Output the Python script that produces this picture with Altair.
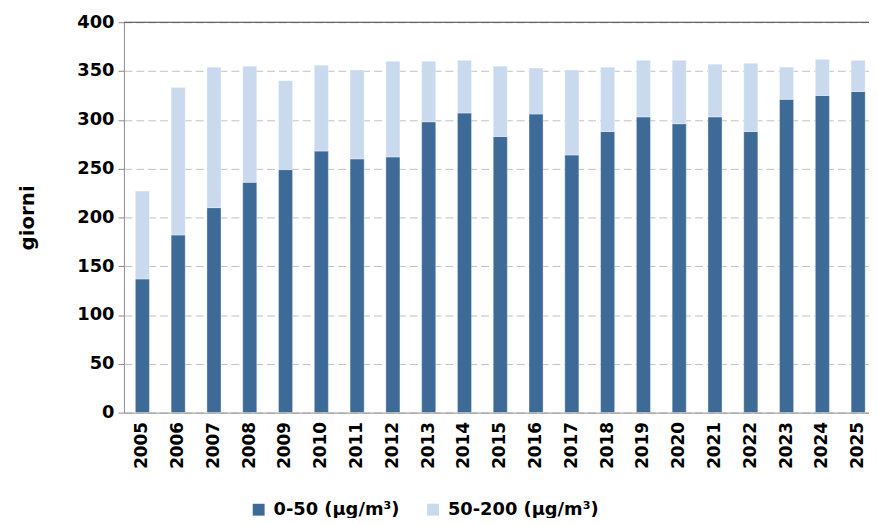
import altair as alt
import pandas as pd

anni = ["2005", "2006", "2007", "2008", "2009", "2010", "2011", "2012", "2013", "2014",
        "2015", "2016", "2017", "2018", "2019", "2020", "2021", "2022", "2023", "2024", "2025"]
giorni_0_50 = [137, 182, 210, 236, 249, 268, 260, 262, 298, 307,
               283, 306, 264, 288, 303, 296, 303, 288, 321, 325, 329]
giorni_50_200 = [90, 151, 144, 119, 91, 88, 91, 98, 62, 54,
                 72, 47, 87, 66, 58, 65, 54, 70, 33, 37, 32]
serie = ["0-50 (µg/m³)", "50-200 (µg/m³)"]
colori = ["#3d6a96", "#c9d9ee"]

rows = []
for a, v1, v2 in zip(anni, giorni_0_50, giorni_50_200):
    rows.append({"anno": a, "serie": serie[0], "giorni": v1, "ordine": 0})
    rows.append({"anno": a, "serie": serie[1], "giorni": v2, "ordine": 1})
df = pd.DataFrame(rows)

FONT = "DejaVu Sans"

bars = alt.Chart(df).mark_bar(stroke="#ffffff", strokeWidth=0.6, strokeOpacity=0.6).encode(
    x=alt.X("anno:N", sort=anni,
            scale=alt.Scale(paddingInner=0.607, paddingOuter=0.213, align=0.75),
            axis=alt.Axis(title=None, labelAngle=-90, labelFont=FONT, labelFontSize=17,
                          labelFontWeight="bold", labelColor="#000000", ticks=False,
                          tickSize=0, labelPadding=9, domainColor="#8c8c8c")),
    y=alt.Y("giorni:Q", stack="zero",
            scale=alt.Scale(domain=[0, 400], nice=False),
            axis=alt.Axis(values=list(range(0, 401, 50)), title="giorni",
                          labelFont=FONT, labelFontSize=18, labelFontWeight="bold",
                          labelColor="#000000", labelPadding=4, tickSize=6,
                          tickColor="#8c8c8c", domainColor="#8c8c8c",
                          gridColor="#c0c0c0", gridDash=[8, 4], gridWidth=1,
                          titleFont=FONT, titleFontSize=20, titleFontWeight="bold",
                          titleColor="#000000", titlePadding=40)),
    color=alt.Color("serie:N", scale=alt.Scale(domain=serie, range=colori),
                    legend=alt.Legend(title=None, orient="none", legendX=127, legendY=483,
                                      direction="horizontal", symbolType="square",
                                      symbolSize=144, symbolStrokeWidth=0,
                                      labelFont=FONT, labelFontSize=18,
                                      labelFontWeight="bold", labelColor="#000000",
                                      labelOffset=6, columnPadding=24)),
    order=alt.Order("ordine:Q"),
)

top_line = alt.Chart(pd.DataFrame({"k": [0]})).mark_rule(color="#404040", strokeWidth=1.2).encode(
    y=alt.datum(400)
)

chart = alt.layer(bars, top_line).properties(
    width=752, height=394,
    autosize=alt.AutoSizeParams(type="none"),
    padding={"left": 117, "top": 12, "right": 0, "bottom": 104},
).configure_view(stroke=None)

chart.save("out.html", embed_options={"renderer": "svg", "actions": False})
